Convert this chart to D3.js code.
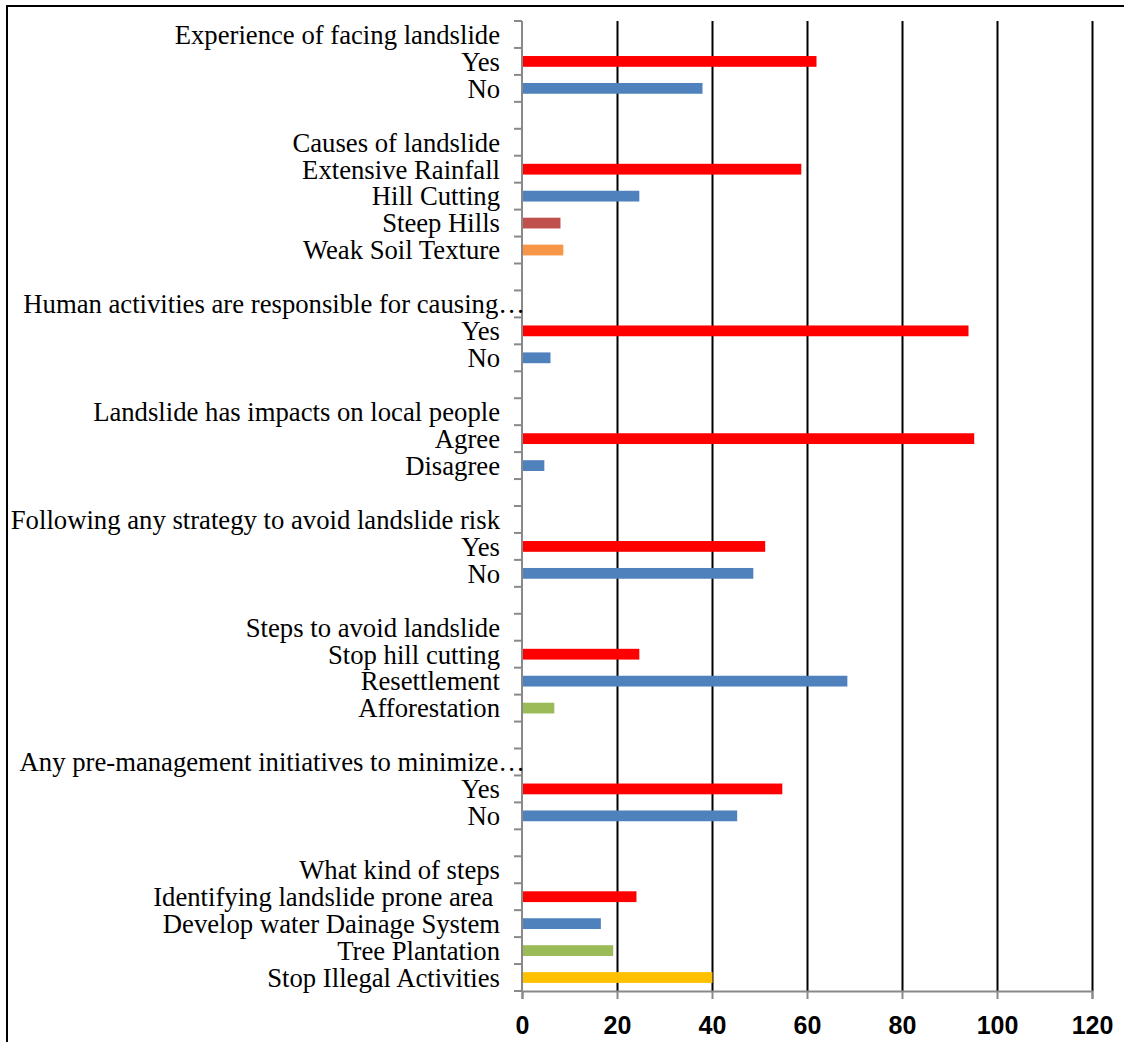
<!DOCTYPE html>
<html>
<head>
<meta charset="utf-8">
<title>Landslide perception survey</title>
<style>
	body{ margin:0; background:#fff; }
	.cat{ font-family:"Liberation Serif","Times New Roman",serif; font-size:26.7px; fill:#000; white-space:pre; }
	.xlab text{ font-family:"Liberation Sans Narrow","Liberation Sans",Arial,sans-serif; font-weight:bold; font-size:25px; fill:#000; }
</style>
</head>
<body>
<div id="chart"></div>
<script src="https://d3js.org/d3.v7.min.js"></script>
<script type="text/javascript">

// rows from top to bottom, "" = spacer row, null value = heading row
var labels = [
	"Experience of facing landslide", "Yes", "No", "",
	"Causes of landslide", "Extensive Rainfall", "Hill Cutting", "Steep Hills", "Weak Soil Texture", "",
	"Human activities are responsible for causing\u2026", "Yes", "No", "",
	"Landslide has impacts on local people", "Agree", "Disagree", "",
	"Following any strategy to avoid landslide risk", "Yes", "No", "",
	"Steps to avoid landslide", "Stop hill cutting", "Resettlement", "Afforestation", "",
	"Any pre-management initiatives to minimize\u2026", "Yes", "No", "",
	"What kind of steps", "Identifying landslide prone area ", "Develop water Dainage System", "Tree Plantation", "Stop Illegal Activities"
];
var values = [
	null, 62, 38, null,
	null, 58.8, 24.7, 8.1, 8.7, null,
	null, 94, 6, null,
	null, 95.2, 4.7, null,
	null, 51.2, 48.7, null,
	null, 24.7, 68.5, 6.8, null,
	null, 54.8, 45.3, null,
	null, 24.1, 16.6, 19.2, 40.1
];
var series = [
	null, "s1", "s2", null,
	null, "s1", "s2", "s3", "s4", null,
	null, "s1", "s2", null,
	null, "s1", "s2", null,
	null, "s1", "s2", null,
	null, "s1", "s2", "s5", null,
	null, "s1", "s2", null,
	null, "s1", "s2", "s5", "s6"
];
var xTicks = [0, 20, 40, 60, 80, 100, 120];

var palette = { s1:"#FF0000", s2:"#4F81BD", s3:"#C0504D", s4:"#F79646", s5:"#9BBB59", s6:"#FFC000" };

var W = 1124, H = 1042,
	plotL = 522, plotR = 1092, plotT = 21, plotB = 991;

var svg = d3.select('#chart').append('svg').attr('width', W).attr('height', H);

// outer frame (runs off the right and bottom of the picture)
svg.append('rect').attr('x', 7).attr('y', 6).attr('width', W + 20).attr('height', H + 20)
	.style('fill', 'none').style('stroke', '#000').style('stroke-width', 2);

var x = d3.scaleLinear().domain([0, 120]).range([plotL, plotR]),
	y = d3.scaleBand().domain(d3.range(labels.length)).range([plotT, plotB]).padding(0);

// vertical grid lines
svg.append('g').attr('transform', 'translate(0,' + plotT + ')')
	.call(d3.axisBottom(x).tickValues(xTicks.slice(1)).tickSize(plotB - plotT).tickFormat(''))
	.call(function(g){
		g.select('.domain').remove();
		g.selectAll('line').style('stroke', '#000').style('stroke-width', 2);
	});

// bars
svg.append('g').selectAll('rect')
	.data(values.map(function(v, i){ return {v:v, i:i, s:series[i]}; }).filter(function(d){ return d.v != null; }))
	.enter().append('rect')
	.attr('x', x(0) + 1)
	.attr('y', function(d){ return y(d.i) + y.bandwidth() * 0.3; })
	.attr('width', function(d){ return x(d.v) - x(0) - 1; })
	.attr('height', y.bandwidth() * 0.4)
	.style('fill', function(d){ return palette[d.s]; });

// x axis
svg.append('g').attr('class', 'xlab').attr('transform', 'translate(0,' + plotB + ')')
	.call(d3.axisBottom(x).tickValues(xTicks).tickSize(8).tickPadding(17))
	.call(function(g){
		g.select('.domain').style('stroke', '#898989').style('stroke-width', 2);
		g.selectAll('line').style('stroke', '#898989').style('stroke-width', 2);
	});

// category axis: line + ticks at row boundaries
var yAxis = svg.append('g');
yAxis.append('line').attr('x1', plotL).attr('x2', plotL).attr('y1', plotT).attr('y2', plotB)
	.style('stroke', '#898989').style('stroke-width', 2);
yAxis.selectAll('.tk').data(d3.range(labels.length + 1)).enter().append('line')
	.attr('x1', plotL - 8).attr('x2', plotL)
	.attr('y1', function(i){ return plotT + i * y.step(); })
	.attr('y2', function(i){ return plotT + i * y.step(); })
	.style('stroke', '#898989').style('stroke-width', 2);

yAxis.selectAll('.cat').data(labels).enter().append('text')
	.attr('class', 'cat')
	.attr('text-anchor', 'end')
	.attr('x', function(d){ return d.slice(-1) === '\u2026' ? plotL + 3 : plotL - 22; })
	.attr('y', function(d, i){ return y(i) + y.bandwidth() / 2; })
	.attr('dy', '0.35em')
	.text(function(d){ return d; });

</script>
</body>
</html>
